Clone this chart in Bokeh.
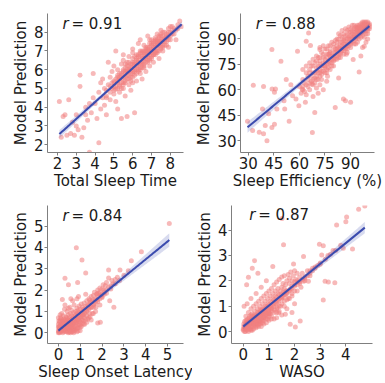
import numpy as np
from bokeh.plotting import figure
from bokeh.layouts import row, column
from bokeh.models import Label, FixedTicker, Range1d
from bokeh.embed import file_html
from bokeh.resources import INLINE

# ---------------- data ----------------
tst_points = [
    (2.1,4.3),(2.2,2.4),(2.3,3.5),(2.4,3.6),(2.5,2.5),(2.6,4.4),(2.7,2.6),(2.8,3.2),(2.9,2.5),(3.0,3.0),
    (3.0,3.6),(3.1,2.8),(3.2,5.7),(3.2,5.1),(3.3,2.4),(3.4,2.9),(3.5,3.6),(3.5,4.0),(3.6,3.3),(3.7,1.6),
    (3.7,4.2),(3.8,3.7),(3.9,5.8),(3.9,4.5),(4.0,4.2),(4.1,3.4),(4.2,2.1),(4.2,4.8),(4.3,3.9),(4.3,5.3),
    (4.4,4.5),(4.4,5.5),(4.5,4.1),(4.5,5.0),(4.6,4.6),(4.6,3.6),(4.7,5.2),(4.7,6.4),(4.8,4.4),(4.8,5.6),
    (4.9,5.0),(4.9,5.9),(5.0,4.7),(5.0,5.4),(5.0,6.2),(5.1,7.0),(5.1,5.1),(5.1,4.3),(5.2,3.9),(5.2,5.6),
    (5.2,6.0),(5.3,5.2),(5.3,5.8),(5.3,4.8),(5.4,5.5),(5.4,6.3),(5.4,3.4),(5.5,5.0),(5.5,5.9),(5.5,6.5),
    (5.6,5.4),(5.6,6.1),(5.6,4.6),(5.7,5.7),(5.7,6.4),(5.7,3.5),(5.8,5.2),(5.8,6.0),(5.8,6.7),(5.9,5.6),
    (5.9,6.3),(5.9,4.9),(6.0,5.9),(6.0,6.6),(6.0,5.3),(6.0,7.1),(6.1,3.7),(6.1,6.2),(6.1,5.7),(6.2,6.5),
    (6.2,6.0),(6.2,5.4),(6.3,7.4),(6.3,6.8),(6.3,6.2),(6.4,5.8),(6.4,6.4),(6.4,7.0),(6.5,6.1),(6.5,6.7),
    (6.5,5.5),(6.6,6.9),(6.6,6.3),(6.6,7.3),(6.7,6.6),(6.7,7.0),(6.7,5.9),(6.8,7.2),(6.8,6.5),(6.8,6.9),
    (6.9,7.4),(6.9,6.8),(6.9,6.2),(7.0,7.1),(7.0,7.6),(7.0,6.6),(7.1,7.0),(7.1,7.4),(7.1,6.4),(7.2,7.3),
    (7.2,7.7),(7.2,6.8),(7.3,7.5),(7.3,7.0),(7.3,7.9),(7.4,7.3),(7.4,7.7),(7.4,6.6),(7.5,7.6),(7.5,7.1),
    (7.6,7.0),(7.6,7.8),(7.7,7.5),(7.7,8.0),(7.8,7.7),(7.8,7.3),(7.9,8.0),(8.0,7.8),(8.0,8.3),(8.1,7.9),
    (8.2,8.2),(8.3,7.6),(8.4,8.4),(8.5,8.6),(8.6,8.3),(7.5,8.1),(6.8,7.8),(6.4,7.6),(6.0,6.9),(5.5,6.8),
    (7.9,7.2),(5.6,5.9),(5.8,6.2),(6.0,6.3),(6.1,6.0),(6.2,6.8),(6.3,6.5),(6.4,6.1),(6.5,6.9),(6.6,6.6),
    (6.7,7.1),(6.8,6.7),(6.9,7.0),(7.0,6.9),(7.1,7.2),(7.2,7.0),(7.3,7.2),(7.4,7.5),(7.5,7.4),(7.6,7.3),
    (7.7,7.7),(5.9,6.0),(6.1,6.4),(6.3,6.0),(6.5,6.4),(6.7,6.8),(6.9,6.6),(7.1,6.8),(7.3,7.4),(7.5,7.8),
    (7.8,7.9),(5.3,5.5),(5.5,5.3),(5.7,6.0),(6.0,5.6),(6.2,6.2),(6.4,6.7),(6.6,7.0),(6.8,7.0),(7.0,7.3),
    (7.2,7.5),(4.9,5.3),(5.2,5.3),(5.4,5.8),(5.6,5.6),(5.8,5.7),(6.6,6.1),(6.9,7.6),(7.6,7.6),(7.9,7.6),
    (8.1,8.1),
    (4.6,4.9),(4.6,4.5),(4.8,5.1),(4.8,4.8),(5.0,5.3),(5.0,4.9),(5.0,5.1),(5.1,5.5),(5.1,4.95),(5.2,5.4),
    (5.2,5.0),(5.2,5.7),(5.3,5.6),(5.3,5.1),(5.4,5.3),(5.4,5.7),(5.4,5.0),(5.5,5.6),(5.5,5.2),(5.5,6.0),
    (5.6,5.8),(5.6,5.3),(5.6,6.3),(5.7,5.5),(5.7,5.9),(5.7,6.2),(5.8,5.5),(5.8,5.9),(5.8,6.4),(5.9,5.8),
    (5.9,6.1),(5.9,5.4),(6.0,6.1),(6.0,5.8),(6.0,6.4),(6.1,6.3),(6.1,5.9),(6.1,6.7),(6.2,6.3),(6.2,5.8),
    (6.2,6.6),(6.3,6.4),(6.3,5.9),(6.3,6.7),(6.4,6.3),(6.4,6.9),(6.4,6.0),(6.5,6.6),(6.5,6.3),(6.5,7.0),
    (6.6,6.5),(6.6,6.8),(6.6,6.2),(6.7,6.7),(6.7,6.4),(6.7,7.2),(6.8,6.8),(6.8,6.4),(6.8,7.1),(6.9,6.9),
    (6.9,6.5),(6.9,7.2),(7.0,7.0),(7.0,6.7),(7.0,7.4),(7.1,7.1),(7.1,6.8),(7.1,7.5),(7.2,7.2),(7.2,6.9),
    (7.2,7.6),(7.3,7.3),(7.3,6.9),(7.3,7.6),(7.4,7.4),(7.4,7.0),(7.4,7.8),(7.5,7.5),(7.5,7.2),(7.5,7.9),
    (7.6,7.5),(7.6,7.2),(7.6,8.0),(7.7,7.6),(7.7,7.3),(7.8,7.8),(7.8,7.5),(7.9,7.8),(7.9,8.2),(8.0,8.0),
    (8.0,7.6),(8.1,8.3),(8.2,7.9),(8.3,8.1),(8.4,8.2),
]

se_points = [
    (29.6,41.4),(33,62.7),(32.6,36),(38.4,48.7),(39,62),(40,39),(41,30),(39,34),(36.5,35),(42,45.8),
    (44,60.5),(46,60.5),(45.4,58.6),(43.9,37.7),(45.4,39.6),(43.9,83.8),(46.8,48.7),(49.2,76.9),(51,53.5),(51.4,48.7),
    (52.3,66.1),(55,63),(54,41.4),(56,56.5),(58.9,82.8),(58,54.5),(59.7,50.6),(61.6,60.5),(63.5,52.6),(64,88.6),
    (65.4,93.5),(66.5,86.1),(67.3,63.4),(67.6,34.8),(69,46.6),(72,83.8),(72,70.1),(74.8,74),(76.5,68),(77.5,80.9),
    (81,49.6),(83,67),(85.8,54.5),(87,53.5),(90,52.6),(91.5,77.9),(95,70.5),(98,85.7),(87.5,81),
    (60,62),(61,58),(62,66),(62,60),(63,64),(64,70),(64,57),(65,62),(65,68),(66,72),
    (66,60),(67,65),(67,74),(68,63),(68,70),(68,56),(69,67),(69,76),(70,61),(70,71),
    (70,66),(71,74),(71,58),(71,79),(72,68),(72,63),(72,77),(73,71),(73,82),(73,66),
    (74,74),(74,60),(74,79),(75,70),(75,76),(75,84),(76,72),(76,79),(76,65),(77,81),
    (77,75),(77,86),(78,78),(78,72),(78,83),(79,80),(79,76),(79,88),(80,82),(80,78),
    (80,74),(81,84),(81,80),(81,89),(82,83),(82,78),(82,86),(83,85),(83,81),(83,90),
    (84,86),(84,82),(84,79),(85,88),(85,84),(85,91),(86,87),(86,83),(86,90),(87,89),
    (87,85),(87,92),(88,90),(88,86),(88,82),(89,91),(89,88),(89,94),(90,92),(90,88),
    (90,85),(91,93),(91,90),(91,95),(92,92),(92,89),(92,96),(93,94),(93,91),(93,87),
    (94,95),(94,92),(94,97),(95,94),(95,96),(95,90),(96,97),(96,93),(96,95),(97,96),
    (97,98),(97,92),(98,97),(98,94),(99,98),(99,95),(100,97),(100,93),(98,99),(96,99),
    (94,98),(92,98),(90,96),(88,95),(86,93),(84,92),(82,90),(80,87),(78,86),(76,84),
    (74,86),(72,85),(70,80),(68,78),(66,76),(64,74),(62,72),(99,100),(100,99),(101,96),
    (101,98),(97,100),(93,97),(85,95),(83,93),(87,96),(89,97),(91,98),(95,98),(99,88),
    (97,85),(100,90),(96,80),(94,88),(98,91),
    (62,62),(63,59),(64,63),(65,66),(66,64),(67,68),(68,66),(69,70),(69,64),(70,68),
    (70,73),(71,70),(71,66),(72,72),(72,75),(73,69),(73,74),(74,71),(74,76),(75,73),
    (75,78),(76,75),(76,70),(77,77),(77,73),(78,76),(78,80),(79,78),(79,74),(80,80),
    (80,77),(81,78),(81,82),(82,80),(82,84),(83,79),(83,83),(84,81),(84,84),(85,83),
    (85,86),(86,85),(86,81),(87,84),(87,87),(88,87),(88,84),(89,86),(89,90),(90,90),
    (90,87),(91,88),(91,91),(92,91),(92,87),(93,90),(93,93),(94,91),(94,94),(95,92),
    (95,95),(96,94),(96,91),(97,94),(97,97),(98,95),(98,96),(99,96),(99,93),(100,95),
    (100,98),(101,97),(90,94),(92,94),(94,96),(96,96),(98,98),(88,92),(86,89),(84,88),
    (82,88),(80,85),(78,82),(76,81),(74,81),(72,79),(70,77),(68,74),(66,70),
    (99,99),(100,100),(98,100),(101,99),(100,96),(97,99),(95,97),(93,96),
]

sol_points = [
    (5.08,5.12),(3.8,3.8),(3.34,3.37),(2.82,2.94),(2.3,2.94),(2.3,2.57),(2.08,2.0),(2.54,1.2),(2.35,1.5),(1.92,0.5),
    (1.8,0.46),(0.82,3.98),(1.08,3.41),(1.25,2.8),(0.3,2.56),(0.88,2.36),(0.46,2.25),(0.18,1.56),(0.57,1.6),(0.92,1.7),
    (1.43,1.53),(1.6,1.2),(1.77,1.83),
    (0.0,0.1),(0.02,0.3),(0.05,0.0),(0.05,0.5),(0.08,0.2),(0.1,0.7),(0.1,0.05),(0.12,0.4),(0.15,0.15),(0.15,0.9),
    (0.18,0.6),(0.2,0.3),(0.2,0.0),(0.22,0.8),(0.25,0.45),(0.25,0.2),(0.28,1.1),(0.3,0.6),(0.3,0.1),(0.32,0.35),
    (0.35,0.75),(0.35,0.5),(0.38,0.2),(0.4,1.0),(0.4,0.4),(0.42,0.65),(0.45,0.3),(0.45,0.85),(0.48,0.5),(0.5,0.1),
    (0.5,0.7),(0.52,1.2),(0.55,0.45),(0.55,0.9),(0.58,0.6),(0.6,0.25),(0.6,0.8),(0.62,1.05),(0.65,0.55),(0.65,0.35),
    (0.68,0.75),(0.7,0.95),(0.7,0.5),(0.72,1.3),(0.75,0.65),(0.75,0.2),(0.78,0.85),(0.8,1.0),(0.8,0.45),(0.82,0.7),
    (0.85,0.9),(0.85,1.15),(0.88,0.6),(0.9,1.05),(0.9,0.35),(0.92,0.8),(0.95,1.25),(0.95,0.95),(0.98,0.7),(1.0,1.1),
    (1.0,0.5),(1.02,0.9),(1.05,1.35),(1.05,0.75),(1.08,1.0),(1.1,1.2),(1.1,0.6),(1.12,0.85),(1.15,1.1),(1.18,1.4),
    (1.2,0.95),(1.2,0.7),(1.25,1.25),(1.28,1.05),(1.3,1.5),(1.3,0.8),(1.35,1.3),(1.38,1.15),(1.4,1.6),(1.42,0.9),
    (1.45,1.4),(1.5,1.7),(1.5,1.2),(1.55,1.5),(1.6,1.75),(1.62,1.35),(1.65,1.9),(1.7,1.6),(1.72,1.2),(1.75,1.8),
    (1.8,2.0),(1.8,1.55),(1.85,1.85),(1.9,2.1),(1.95,1.75),(2.0,2.05),(2.05,2.25),(2.1,1.9),(2.15,2.2),(2.2,2.35),
    (0.1,0.25),(0.2,0.55),(0.3,0.25),(0.4,0.15),(0.5,0.35),(0.15,0.35),(0.25,0.65),(0.35,0.05),(0.45,0.6),(0.55,0.2),
    (0.05,0.2),(0.12,0.1),(0.22,0.15),(0.33,0.45),(0.42,0.25),(0.6,0.05),(0.7,0.1),(0.8,0.15),(0.9,0.1),(0.0,0.4),
    (0.0,0.7),(0.08,0.85),(1.0,0.25),(1.15,0.4),(0.65,1.5),(0.45,1.15),(0.3,1.3),(0.85,1.6),(1.25,1.8),(1.55,0.9),
    (1.9,1.3),
    (0.0,0.0),(0.02,0.05),(0.05,0.15),(0.05,0.3),(0.08,0.1),(0.1,0.15),(0.1,0.35),(0.12,0.2),(0.15,0.1),(0.15,0.25),
    (0.18,0.3),(0.2,0.1),(0.2,0.2),(0.22,0.35),(0.25,0.05),(0.25,0.3),(0.28,0.2),(0.3,0.35),(0.3,0.45),(0.32,0.15),
    (0.35,0.3),(0.38,0.4),(0.4,0.3),(0.4,0.55),(0.42,0.05),(0.45,0.45),(0.48,0.2),(0.5,0.5),(0.5,0.25),(0.52,0.4),
    (0.55,0.6),(0.58,0.3),(0.6,0.5),(0.62,0.65),(0.65,0.15),(0.68,0.45),(0.7,0.7),(0.72,0.3),(0.75,0.55),(0.78,0.75),
    (0.8,0.6),(0.85,0.5),(0.88,0.85),(0.9,0.7),(0.95,0.55),(1.0,0.85),(1.05,0.6),(1.1,0.95),(1.15,0.8),(1.2,1.1),
    (1.3,1.2),(1.4,1.3),(1.5,1.45),(1.6,1.55),(1.7,1.5),(1.8,1.7),(1.9,1.9),(2.0,1.8),(0.18,0.45),(0.28,0.55),
    (0.38,0.7),(0.08,0.55),(0.12,0.65),(0.0,0.25),(0.02,0.55),(0.6,0.35),(0.35,0.15),(0.45,0.1),(0.55,0.35),(0.25,0.4),
    (0.45,0.0),(0.5,0.05),(0.55,0.1),(0.6,0.15),(0.65,0.05),(0.7,0.2),(0.75,0.1),(0.8,0.3),(0.85,0.2),(0.9,0.25),
    (0.95,0.4),(1.0,0.35),(1.05,0.3),(1.1,0.45),(1.15,0.55),(1.2,0.4),(1.25,0.6),(1.3,0.5),(1.35,0.65),(1.4,0.7),
    (1.45,0.75),(1.5,0.6),(1.6,0.9),(1.7,1.0),(0.55,0.0),(0.7,0.0),(0.85,0.05),(1.0,0.1),(2.4,2.2),(2.5,2.3),
    (2.6,2.5),(2.7,2.6),(2.2,2.0),(2.3,2.15),(2.0,1.65),(2.45,2.45),
    (0.3,0.15),(0.4,0.25),(0.5,0.3),(0.6,0.4),(0.7,0.5),(0.8,0.55),(0.9,0.65),(1.0,0.75),(1.1,0.85),(1.2,0.9),
    (1.3,1.0),(1.4,1.1),(1.5,1.2),(1.6,1.3),(1.7,1.4),(1.8,1.45),(1.9,1.6),(2.0,1.7),(2.1,1.8),(2.2,1.85),
    (2.4,2.05),(2.6,2.3),(2.8,2.45),(3.0,2.7),(3.2,2.9),(0.35,0.2),(0.45,0.25),(0.55,0.3),(0.65,0.4),(0.75,0.45),
]

waso_points = [
    (4.74,4.95),(4.5,4.82),(4.03,4.52),(4.0,4.33),(3.64,4.2),(3.9,3.28),(4.26,3.26),(1.51,4.46),(1.57,3.42),(2.97,3.44),
    (3.12,3.38),(3.06,3.02),(3.19,1.98),(3.32,1.95),(3.57,1.92),(3.12,1.24),(0.44,2.79),(0.35,2.5),(0.2,2.14),(0.13,1.85),
    (0.57,2.3),(1.15,2.57),(2.35,2.96),(1.96,2.66),(2.35,1.98),(2.54,1.98),(2.22,0.42),(2.03,0.18),(1.83,0.29),(1.64,0.68),
    (1.38,0.74),(0.03,1.0),
    (0.0,0.05),(0.02,0.2),(0.05,0.1),(0.05,0.4),(0.08,0.0),(0.1,0.25),(0.1,0.6),(0.12,0.15),(0.15,0.35),(0.15,0.05),
    (0.18,0.5),(0.2,0.2),(0.2,0.75),(0.22,0.4),(0.25,0.1),(0.25,0.55),(0.28,0.3),(0.3,0.65),(0.3,0.9),(0.32,0.2),
    (0.35,0.45),(0.35,0.7),(0.38,0.35),(0.4,0.55),(0.4,1.0),(0.42,0.25),(0.45,0.65),(0.45,0.8),(0.48,0.45),(0.5,0.6),
    (0.5,1.1),(0.52,0.3),(0.55,0.75),(0.55,0.9),(0.58,0.5),(0.6,0.7),(0.6,1.2),(0.62,0.4),(0.65,0.85),(0.65,1.0),
    (0.68,0.6),(0.7,0.75),(0.7,1.3),(0.72,0.5),(0.75,0.9),(0.75,1.1),(0.78,0.7),(0.8,0.85),(0.8,1.4),(0.82,0.55),
    (0.85,1.0),(0.85,1.2),(0.88,0.75),(0.9,0.95),(0.9,1.5),(0.92,0.6),(0.95,1.1),(0.95,1.3),(0.98,0.85),(1.0,1.05),
    (1.0,1.6),(1.02,0.7),(1.05,1.2),(1.05,1.4),(1.08,0.9),(1.1,1.15),(1.1,1.7),(1.12,0.8),(1.15,1.3),(1.15,1.5),
    (1.18,1.0),(1.2,1.25),(1.2,1.85),(1.22,0.85),(1.25,1.4),(1.25,1.6),(1.28,1.1),(1.3,1.35),(1.3,1.95),(1.32,0.95),
    (1.35,1.5),(1.35,1.7),(1.38,1.2),(1.4,1.45),(1.4,2.05),(1.45,1.6),(1.45,1.0),(1.5,1.75),(1.5,1.3),(1.5,2.15),
    (1.55,1.55),(1.55,1.9),(1.6,1.7),(1.6,2.2),(1.6,1.2),(1.65,1.85),(1.65,1.45),(1.7,2.0),(1.7,1.6),(1.75,2.25),
    (1.75,1.3),(1.8,1.9),(1.8,2.1),(1.85,1.7),(1.85,2.35),(1.9,2.0),(1.9,1.4),(1.95,2.2),(2.0,1.85),(2.0,2.4),
    (2.05,2.05),(2.1,1.6),(2.1,2.3),(2.15,1.95),(2.2,2.15),(2.25,1.75),(2.3,2.3),(2.4,2.0),(2.5,2.4),(2.6,2.2),
    (2.7,2.5),(1.5,0.65),(1.4,0.8),(1.7,0.9),(1.9,0.75),(2.0,1.1),(1.3,0.55),(1.2,0.5),(0.3,1.3),(0.5,1.5),
    (0.7,1.75),(0.9,2.0),(0.15,1.1),(0.6,0.2),(0.8,0.3),(1.0,0.45),(0.4,0.1),(0.2,0.0),(0.1,0.45),(0.35,0.05),
    (0.0,0.1),(0.02,0.3),(0.05,0.2),(0.08,0.15),(0.1,0.1),(0.1,0.35),(0.12,0.3),(0.15,0.2),(0.18,0.25),(0.2,0.4),
    (0.22,0.2),(0.25,0.35),(0.28,0.45),(0.3,0.3),(0.32,0.5),(0.35,0.35),(0.38,0.5),(0.4,0.4),(0.42,0.6),(0.45,0.5),
    (0.48,0.35),(0.5,0.55),(0.52,0.65),(0.55,0.6),(0.58,0.4),(0.6,0.6),(0.62,0.75),(0.65,0.55),(0.68,0.8),(0.7,0.65),
    (0.72,0.85),(0.75,0.7),(0.78,0.55),(0.8,0.75),(0.82,0.9),(0.85,0.8),(0.88,0.65),(0.9,0.85),(0.92,1.0),(0.95,0.9),
    (0.98,0.7),(1.0,0.95),(1.05,1.0),(1.1,0.95),(1.15,1.05),(1.2,1.1),(1.25,1.2),(1.3,1.15),(1.35,1.25),(1.4,1.3),
    (1.45,1.35),(1.5,1.45),(1.55,1.35),(1.6,1.5),(1.65,1.6),(1.7,1.55),(1.8,1.65),(1.9,1.8),(2.0,1.95),(2.1,2.0),
    (0.15,0.45),(0.25,0.6),(0.35,0.6),(0.45,0.3),(0.55,0.45),(0.65,0.4),(0.75,0.45),(0.05,0.0),(0.3,0.1),(0.5,0.2),
    (0.7,0.35),(0.9,0.5),(1.1,0.6),(1.3,0.75),(1.0,0.75),(0.8,0.6),
    (0.5,0.15),(0.6,0.3),(0.7,0.2),(0.8,0.45),(0.9,0.35),(1.0,0.6),(1.1,0.5),(1.2,0.75),(1.3,0.9),(1.4,1.0),
    (1.5,1.1),(1.6,1.0),(1.7,1.25),(1.8,1.3),(1.9,1.5),(2.0,1.6),(2.2,1.9),(2.4,2.1),(2.6,2.4),(2.8,2.55),
    (3.0,2.7),(3.3,3.0),(3.5,3.2),(0.4,0.2),(0.3,0.05),(0.55,0.25),(0.65,0.3),(0.75,0.35),(0.95,0.5),(1.05,0.7),
    (1.5,1.35),(1.6,1.45),(1.7,1.5),(1.8,1.6),(1.9,1.7),(2.0,1.8),(2.1,1.85),(2.2,1.95),(2.3,2.05),(2.4,2.15),
    (2.5,2.2),(2.6,2.3),(2.7,2.4),(2.8,2.5),(2.9,2.6),(3.0,2.65),(3.2,2.85),(3.4,3.05),(3.6,3.2),(3.8,3.4),
    (0.2,0.1),(0.3,0.2),(0.4,0.3),(0.5,0.35),(0.6,0.45),(0.7,0.55),(0.8,0.65),(0.9,0.7),(1.0,0.8),(1.1,0.9),
]

x_labels = ["Total Sleep Time", "Sleep Efficiency (%)", "Sleep Onset Latency", "WASO"]
y_label = "Model Prediction"
r_texts = ["0.91", "0.88", "0.84", "0.87"]
tst_ticks = [2, 3, 4, 5, 6, 7, 8]
se_ticks = [30, 45, 60, 75, 90]
sol_ticks = [0, 1, 2, 3, 4, 5]
waso_ticks = [0, 1, 2, 3, 4]

# ---------------- styling ----------------
POINT = "#F08080"
LINE = "#3B4BAE"
AXIS = "#7f7f7f"
TXT = "#1a1a1a"
FONT = "DejaVu Sans"


def panel(pts, xlab, rtext, xr, yr, ticks, width, height, borders, rfrac):
    xs = np.array([p[0] for p in pts], dtype=float)
    ys = np.array([p[1] for p in pts], dtype=float)
    bl, br, bt, bb = borders
    p = figure(width=width, height=height, x_range=Range1d(*xr), y_range=Range1d(*yr),
               output_backend="svg", toolbar_location=None,
               min_border_left=bl, min_border_right=br, min_border_top=bt, min_border_bottom=bb)
    p.grid.visible = False
    p.outline_line_color = None
    p.background_fill_color = "white"
    p.border_fill_color = "white"

    p.scatter(xs, ys, size=5, fill_color=POINT, fill_alpha=0.55, line_color=None)

    # linear fit + 95% confidence band
    n = len(xs)
    slope, intercept = np.polyfit(xs, ys, 1)
    gx = np.linspace(xs.min(), xs.max(), 100)
    pred = intercept + slope * gx
    resid = ys - (intercept + slope * xs)
    s = np.sqrt(np.sum(resid ** 2) / (n - 2))
    se = s * np.sqrt(1.0 / n + (gx - xs.mean()) ** 2 / np.sum((xs - xs.mean()) ** 2))
    p.varea(x=gx, y1=pred - 1.96 * se, y2=pred + 1.96 * se, fill_color=LINE, fill_alpha=0.2)
    p.line(gx, pred, line_color=LINE, line_width=2)

    for ax in (p.xaxis[0], p.yaxis[0]):
        ax.axis_line_color = AXIS
        ax.axis_line_width = 1
        ax.major_tick_line_color = AXIS
        ax.major_tick_out = 3
        ax.major_tick_in = 0
        ax.minor_tick_line_color = None
        ax.major_label_text_font = FONT
        ax.major_label_text_font_size = "15px"
        ax.major_label_text_color = TXT
        ax.major_label_standoff = 1
        ax.axis_label_text_font = FONT
        ax.axis_label_text_font_size = "15px"
        ax.axis_label_text_font_style = "normal"
        ax.axis_label_text_color = TXT
        ax.ticker = FixedTicker(ticks=ticks)
    p.xaxis.axis_label_standoff = 0
    p.yaxis.axis_label_standoff = 1
    p.xaxis.axis_label = xlab
    p.yaxis.axis_label = y_label

    # r annotation near top-left of the frame
    lx = xr[0] + rfrac[0] * (xr[1] - xr[0])
    ly = yr[0] + rfrac[1] * (yr[1] - yr[0])
    p.add_layout(Label(x=lx, y=ly, text="r", text_font=FONT, text_font_size="15px",
                       text_font_style="italic", text_color=TXT, text_baseline="alphabetic"))
    p.add_layout(Label(x=lx, y=ly, x_offset=9, text="= " + rtext, text_font=FONT,
                       text_font_size="15px", text_color=TXT, text_baseline="alphabetic"))
    return p


f1 = panel(tst_points, x_labels[0], r_texts[0], (1.47, 8.7), (1.58, 9.0), tst_ticks,
           192, 192, (47, 9, 13, 38), (0.11, 0.922))
f2 = panel(se_points, x_labels[1], r_texts[1], (25.5, 104.0), (23.0, 105.0), se_ticks,
           193, 192, (41, 11, 13, 38), (0.114, 0.922))
f3 = panel(sol_points, x_labels[2], r_texts[2], (-0.5, 5.73), (-0.5, 5.96), sol_ticks,
           192, 191, (47, 9, 13, 37), (0.11, 0.922))
f4 = panel(waso_points, x_labels[3], r_texts[3], (-0.46, 5.04), (-0.47, 4.97), waso_ticks,
           193, 191, (37, 13, 13, 38), (0.126, 0.929))

layout = column(row(f1, f2), row(f3, f4))
open("out.html", "w").write(file_html(layout, INLINE))
